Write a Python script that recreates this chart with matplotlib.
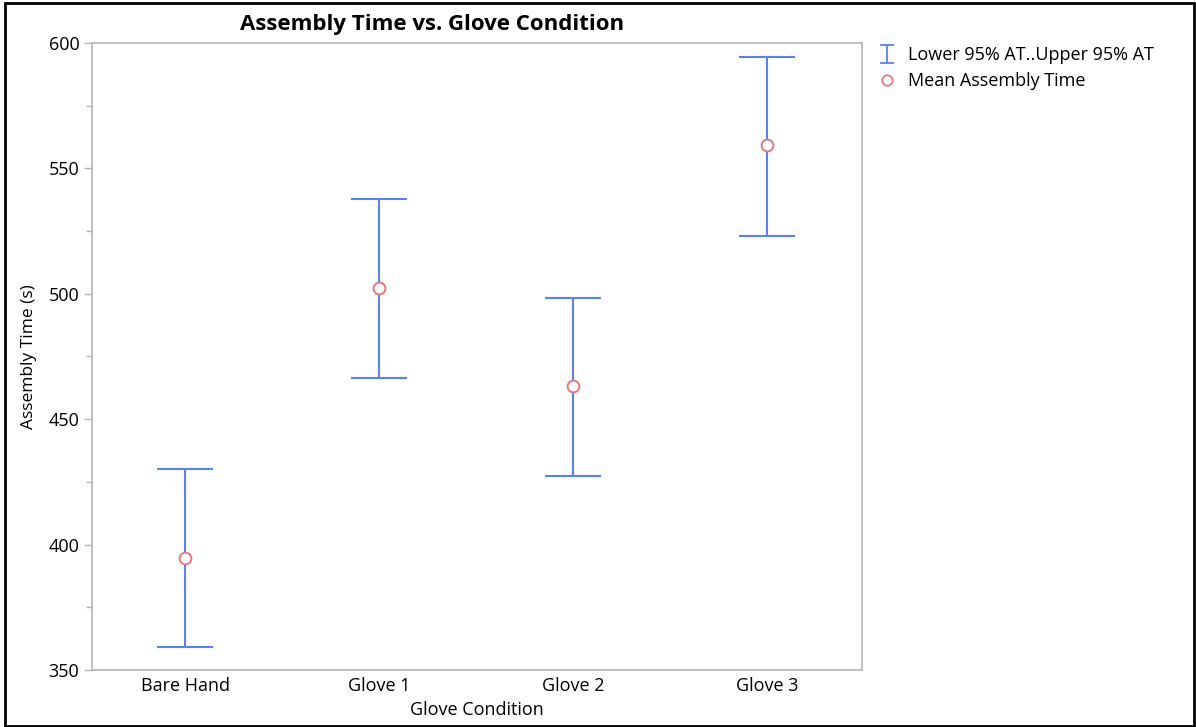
import numpy as np
import matplotlib.pyplot as plt
from matplotlib.patches import Rectangle

plt.rcParams['font.family'] = ['Open Sans', 'DejaVu Sans']

# 各手套条件下的装配时间（均值及95%置信区间）
conditions = ['Bare Hand', 'Glove 1', 'Glove 2', 'Glove 3']
mean_time = [394.7, 502.3, 463.2, 559.3]
lower_95 = [359.2, 466.4, 427.4, 523.0]
upper_95 = [430.1, 537.8, 498.3, 594.4]

blue = '#5b82e6'
red = '#e07a80'
grey = '#b4b4b4'

fig = plt.figure(figsize=(11.96, 7.27), dpi=100)
ax = fig.add_axes([0.0769, 0.0784, 0.6438, 0.8625])

x = np.arange(len(conditions))
mean = np.array(mean_time)
err = np.vstack([mean - np.array(lower_95), np.array(upper_95) - mean])

ax.errorbar(x, mean, yerr=err, fmt='none', ecolor=blue, elinewidth=1.5,
            capsize=20.5, capthick=1.5, zorder=2)
ax.plot(x, mean, 'o', markersize=8.5, markerfacecolor='white',
        markeredgecolor=red, markeredgewidth=1.4, zorder=3)

ax.set_xlim(-0.48, 3.49)
ax.set_ylim(350, 600)
ax.set_xticks(x)
ax.set_xticklabels(conditions)
ax.set_yticks([350, 400, 450, 500, 550, 600])
ax.set_yticks(np.arange(350, 601, 25), minor=True)
ax.tick_params(axis='both', labelsize=13, color=grey, length=6, width=1, pad=3)
ax.tick_params(axis='y', which='minor', color=grey, length=4, width=1)
ax.tick_params(axis='x', length=0, pad=5)
for s in ax.spines.values():
    s.set_color(grey)
    s.set_linewidth(1.2)

ax.set_xlabel('Glove Condition', fontsize=13, labelpad=4)
ax.set_ylabel('Assembly Time (s)', fontsize=12.5, labelpad=8)
ax.set_title('Assembly Time vs. Glove Condition', fontsize=16, fontweight='bold',
             x=0.442, pad=9)

# 图例
eb_handle = ax.errorbar([np.nan], [np.nan], yerr=[[1], [1]], fmt='none', ecolor=blue,
                        elinewidth=1.3, capsize=5, capthick=1.3)
mean_handle, = ax.plot([], [], 'o', markersize=7.5, markerfacecolor='white',
                       markeredgecolor=red, markeredgewidth=1.3)
ax.legend([eb_handle, mean_handle],
          ['Lower 95% AT..Upper 95% AT', 'Mean Assembly Time'],
          loc='upper left', bbox_to_anchor=(1.004, 1.012), frameon=False,
          fontsize=13, handlelength=1.2, handletextpad=0.6, labelspacing=0.45,
          borderaxespad=0.2)

# 外框
fig.patches.append(Rectangle((0.004, 0.001), 0.994, 0.995, transform=fig.transFigure,
                             fill=False, edgecolor='black', linewidth=2))

fig.savefig('out.png', dpi=100)
